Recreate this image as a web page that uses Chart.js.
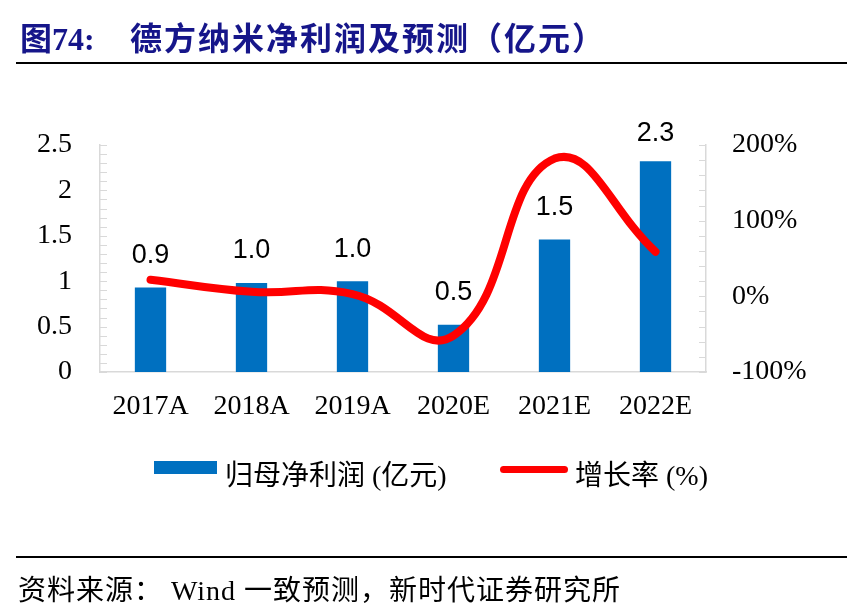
<!DOCTYPE html>
<html>
<head>
<meta charset="utf-8">
<script src="https://cdn.jsdelivr.net/npm/chart.js@4/dist/chart.umd.min.js"></script>
<style>
  body { margin: 0; background: #fff; }
  .wrap { position: relative; width: 847px; height: 613px; overflow: hidden; }
  canvas { position: absolute; left: 0; top: 0; }
  .title { position: absolute; top: 13px; color: #16168a; font: bold 32px "Liberation Serif", "Noto Sans CJK SC"; white-space: nowrap; }
  .rule { position: absolute; left: 16px; right: 0; height: 2px; background: #000; }
  .legend { position: absolute; top: 453px; font: 28px "Liberation Serif", "Noto Sans CJK SC"; white-space: nowrap; }
  .src { position: absolute; left: 18px; top: 568px; font: 28px "Liberation Serif", "Noto Sans CJK SC"; letter-spacing: 1px; white-space: nowrap; }
</style>
</head>
<body>
<div class="wrap">
  <canvas id="chart" width="847" height="613"></canvas>
  <div class="title" style="left:20px">图74:</div>
  <div class="title" style="left:130px;letter-spacing:2px">德方纳米净利润及预测（亿元）</div>
  <div class="rule" style="top:62px"></div>
  <div style="position:absolute;left:154px;top:461px;width:63px;height:13px;background:#0070c0"></div>
  <div class="legend" style="left:225px">归母净利润 (亿元)</div>
  <div style="position:absolute;left:500px;top:466px;width:68px;height:7px;border-radius:4px;background:#ff0000"></div>
  <div class="legend" style="left:575px">增长率 (%)</div>
  <div class="rule" style="top:556px"></div>
  <div class="src">资料来源： Wind 一致预测，新时代证券研究所</div>
</div>
<script>
const years = ["2017A", "2018A", "2019A", "2020E", "2021E", "2022E"];
const netProfit = [0.93, 0.98, 1.0, 0.52, 1.46, 2.32];   // 亿元
const growth = [22, 6, 3, -52, 182, 59];                   // %

const axisGrey = "#d9d9d9";
const tickFont = { family: "Liberation Serif", size: 28 };

// small inward tick marks on both value axes
const minorTicks = {
  id: "minorTicks",
  beforeDatasetsDraw(chart) {
    const ctx = chart.ctx, a = chart.chartArea;
    const yl = chart.scales.y, yr = chart.scales.y1;
    ctx.save();
    ctx.strokeStyle = axisGrey;
    ctx.lineWidth = 1;
    ctx.beginPath();
    for (let i = 0; i <= 25; i++) {
      const p = Math.round(yl.getPixelForValue(i / 10)) + 0.5;
      ctx.moveTo(a.left, p); ctx.lineTo(a.left + 7, p);
    }
    for (let v = -100; v <= 200; v += 20) {
      const p = Math.round(yr.getPixelForValue(v)) + 0.5;
      ctx.moveTo(a.right - 7, p); ctx.lineTo(a.right, p);
    }
    ctx.stroke();
    ctx.restore();
  }
};

// value labels above the bars
const barLabels = {
  id: "barLabels",
  afterDatasetsDraw(chart) {
    const ctx = chart.ctx;
    const meta = chart.getDatasetMeta(0);
    ctx.save();
    ctx.font = "27px 'Liberation Sans'";
    ctx.fillStyle = "#000";
    ctx.textAlign = "center";
    ctx.textBaseline = "middle";
    meta.data.forEach((bar, i) => {
      ctx.fillText(netProfit[i].toFixed(1), bar.x, Math.max(bar.y - 32, 134));
    });
    ctx.restore();
  }
};

new Chart(document.getElementById("chart"), {
  data: {
    labels: years,
    datasets: [
      {
        type: "bar",
        label: "归母净利润 (亿元)",
        data: netProfit,
        backgroundColor: "#0070c0",
        barPercentage: 0.31,
        categoryPercentage: 1,
        yAxisID: "y",
        order: 2,
      },
      {
        type: "line",
        label: "增长率 (%)",
        data: growth,
        borderColor: "#ff0000",
        borderWidth: 8,
        borderCapStyle: "round",
        tension: 0.45,
        pointRadius: 0,
        fill: false,
        yAxisID: "y1",
        order: 1,
      },
    ],
  },
  options: {
    responsive: false,
    animation: false,
    devicePixelRatio: 1,
    layout: { padding: { top: 145, left: 0, right: 0, bottom: 0 } },
    plugins: { legend: { display: false }, tooltip: { enabled: false } },
    scales: {
      x: {
        grid: { display: false, drawTicks: false },
        border: { color: axisGrey, width: 1.5 },
        ticks: { font: tickFont, color: "#000", padding: 18 },
        afterFit: (s) => { s.height = 241; },
      },
      y: {
        position: "left",
        min: 0,
        max: 2.5,
        grid: { display: false, drawTicks: false },
        border: { color: axisGrey, width: 1.5 },
        ticks: { stepSize: 0.5, font: tickFont, color: "#000", padding: 28, callback: (v) => String(v) },
        afterFit: (s) => { s.width = 100; },
      },
      y1: {
        position: "right",
        min: -100,
        max: 200,
        grid: { display: false, drawTicks: false },
        border: { color: axisGrey, width: 1.5 },
        ticks: { stepSize: 100, font: tickFont, color: "#000", padding: 26, callback: (v) => v + "%" },
        afterFit: (s) => { s.width = 141; },
      },
    },
  },
  plugins: [minorTicks, barLabels],
});
</script>
</body>
</html>
